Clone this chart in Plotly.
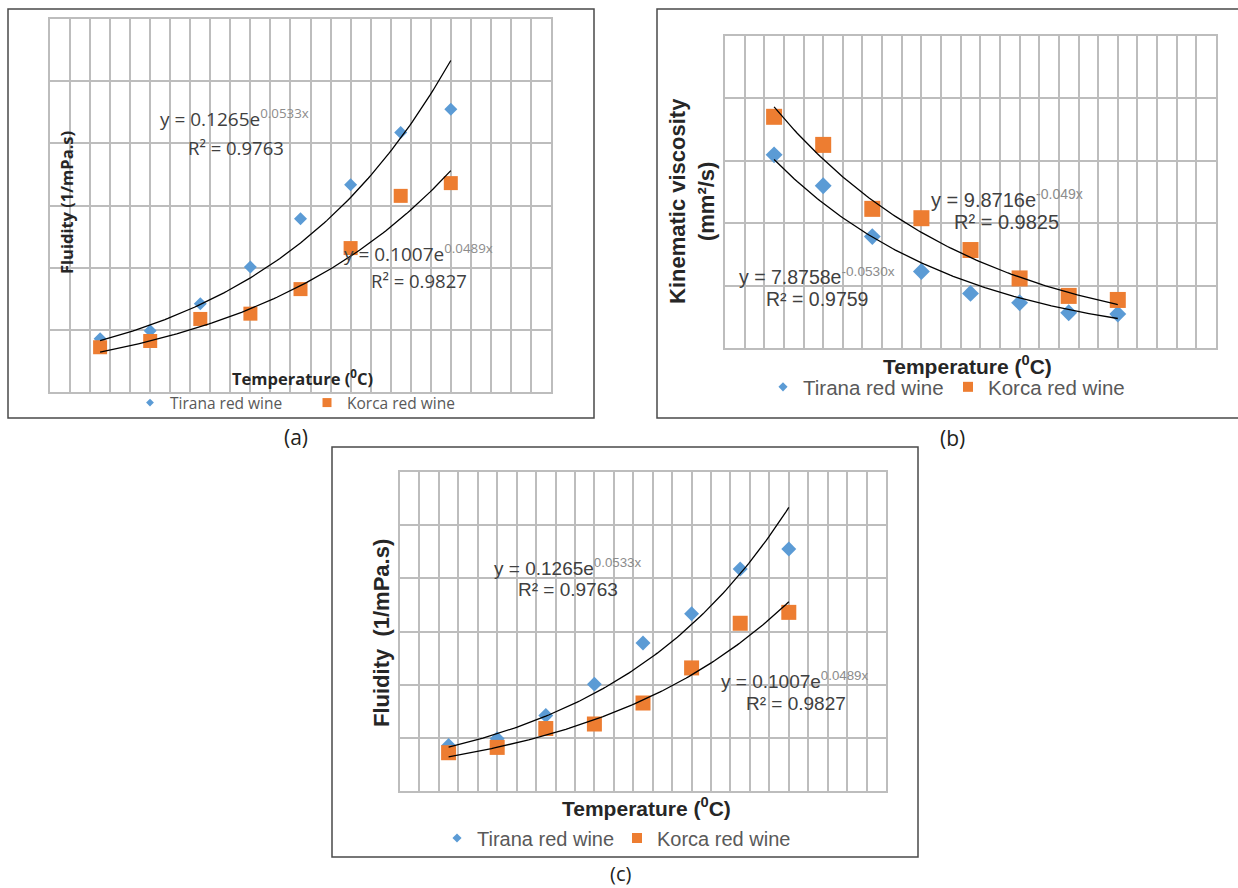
import numpy as np
import plotly.graph_objects as go

# ---------------- data ----------------
temperature = [5, 10, 15, 20, 25, 30, 35, 40]
tirana_fluidity = [0.171, 0.197, 0.284, 0.402, 0.557, 0.667, 0.835, 0.910]
korca_fluidity = [0.144, 0.164, 0.235, 0.252, 0.331, 0.463, 0.631, 0.672]
tirana_viscosity = [6.19, 5.20, 3.57, 2.45, 1.75, 1.45, 1.13, 1.09]
korca_viscosity = [7.41, 6.51, 4.46, 4.16, 3.14, 2.23, 1.67, 1.54]

# exponential trendline coefficients as displayed: y = a * e^(b x), R²
tirana_fluidity_fit = ["0.1265", "0.0533", "0.9763"]
korca_fluidity_fit = ["0.1007", "0.0489", "0.9827"]
tirana_visc_fit = ["7.8758", "-0.0530", "0.9759"]
korca_visc_fit = ["9.8716", "-0.049", "0.9825"]

series_names = ["Tirana red wine", "Korca red wine"]
x_title = "Temperature (<sup>0</sup>C)"
BLUE = "#5B9BD5"
ORANGE = "#ED7D31"
GRID = "#BDBDBD"
W, H = 1238, 888


def X(p):
    return p / W


def Y(p):
    return 1 - p / H


fig = go.Figure()


def trend(fit, axis_x, axis_y):
    a, b = float(fit[0]), float(fit[1])
    xs = np.linspace(min(temperature), max(temperature), 120)
    fig.add_trace(go.Scatter(x=xs, y=a * np.exp(b * xs), mode="lines",
                             line=dict(color="black", width=1.3),
                             showlegend=False, hoverinfo="skip",
                             xaxis=axis_x, yaxis=axis_y))


def panel(tir, kor, fit_t, fit_k, ax, ay, leg, dsize, ssize, lsize_d, lsize_s):
    fig.add_trace(go.Scatter(x=temperature, y=tir, mode="markers", name=series_names[0],
                             marker=dict(symbol="diamond", size=dsize, color=BLUE),
                             showlegend=False, xaxis=ax, yaxis=ay))
    fig.add_trace(go.Scatter(x=temperature, y=kor, mode="markers", name=series_names[1],
                             marker=dict(symbol="square", size=ssize, color=ORANGE),
                             showlegend=False, xaxis=ax, yaxis=ay))
    trend(fit_t, ax, ay)
    trend(fit_k, ax, ay)
    # legend entries
    fig.add_trace(go.Scatter(x=[None], y=[None], mode="markers", name=series_names[0],
                             marker=dict(symbol="diamond", size=lsize_d, color=BLUE),
                             legend=leg, xaxis=ax, yaxis=ay))
    fig.add_trace(go.Scatter(x=[None], y=[None], mode="markers", name=series_names[1],
                             marker=dict(symbol="square", size=lsize_s, color=ORANGE),
                             legend=leg, xaxis=ax, yaxis=ay))


panel(tirana_fluidity, korca_fluidity, tirana_fluidity_fit, korca_fluidity_fit, "x", "y", "legend", 10, 14, 6, 9)
panel(tirana_viscosity, korca_viscosity, tirana_visc_fit, korca_visc_fit, "x2", "y2", "legend2", 13, 16, 7, 10)
panel(tirana_fluidity, korca_fluidity, tirana_fluidity_fit, korca_fluidity_fit, "x3", "y3", "legend3", 11.5, 15, 7, 10)

# plot-area rectangles (pixels): left, top, right, bottom
areas = {
    "a": (50, 19, 551, 392),
    "b": (725, 36, 1216, 348),
    "c": (400, 472, 886, 791),
}
ranges = {"a": [0, 1.2], "b": [0, 10], "c": [0, 1.2]}
dticks = {"a": 0.2, "b": 2, "c": 0.2}

axcommon = dict(showgrid=True, gridcolor=GRID, gridwidth=1.5, showline=True, mirror=True,
                linecolor=GRID, linewidth=1.5, zeroline=False, ticks="", showticklabels=False,
                fixedrange=True)

layout_axes = {}
for i, k in enumerate(["a", "b", "c"]):
    l, t, r, b = areas[k]
    sx = "xaxis" if i == 0 else f"xaxis{i+1}"
    sy = "yaxis" if i == 0 else f"yaxis{i+1}"
    anc_x = "y" if i == 0 else f"y{i+1}"
    anc_y = "x" if i == 0 else f"x{i+1}"
    layout_axes[sx] = dict(domain=[X(l), X(r)], range=[0, 50], dtick=2, tick0=0, anchor=anc_x, **axcommon)
    layout_axes[sy] = dict(domain=[Y(b), Y(t)], range=ranges[k], dtick=dticks[k], tick0=0, anchor=anc_y, **axcommon)

fig.update_layout(**layout_axes)

# boxes around each chart
boxes = [(8, 9, 594, 418), (657, 9, 1250, 418), (332, 447, 918, 857)]
shapes = []
for (l, t, r, b) in boxes:
    shapes.append(dict(type="rect", xref="paper", yref="paper", x0=X(l), x1=X(r), y0=Y(b), y1=Y(t),
                       line=dict(color="#4A4A4A", width=1.5), fillcolor="rgba(0,0,0,0)", layer="below"))

OS = "Open Sans"
AR = "Liberation Sans, Arial"
TXT = "#404040"
SUPC = "#8C8C8C"


def eq(fit):
    return f"y = {fit[0]}e<sup><span style='color:{SUPC}'>{fit[1]}x</span></sup>"


def r2(fit):
    return f"R² = {fit[2]}"


ann = []


def add_text(text, x, y, font, size, xanchor="left", bold=False, angle=0, color=TXT):
    ann.append(dict(text=f"<b>{text}</b>" if bold else text, x=X(x), y=Y(y), xref="paper", yref="paper",
                    xanchor=xanchor, yanchor="middle", showarrow=False, textangle=angle,
                    font=dict(family=font, size=size, color=color)))


# panel (a)
add_text(eq(tirana_fluidity_fit), 158, 118, OS, 19)
add_text(r2(tirana_fluidity_fit), 186, 147, OS, 18.5)
add_text(eq(korca_fluidity_fit), 342, 253, OS, 19)
add_text(r2(korca_fluidity_fit), 369, 281, OS, 18.5)
add_text("Fluidity (1/mPa.s)", 66, 203, OS, 16.5, xanchor="center", bold=True, angle=-90, color="#262626")
add_text(x_title, 302, 378, OS, 16.5, xanchor="center", bold=True, color="#262626")
add_text("(a)", 296, 437, OS, 21, xanchor="center", color="#231F20")

# panel (b)
add_text(eq(korca_visc_fit), 929, 198, AR, 20)
add_text(r2(korca_visc_fit), 952, 222, AR, 20)
add_text(eq(tirana_visc_fit), 737, 276, AR, 19.5)
add_text(r2(tirana_visc_fit), 764, 299, AR, 19.5)
add_text("Kinematic viscosity<br>(mm²/s)", 692, 201, AR, 22, xanchor="center", bold=True, angle=-90, color="#262626")
add_text(x_title, 967, 365, AR, 21, xanchor="center", bold=True, color="#262626")
add_text("(b)", 952, 438, OS, 21, xanchor="center", color="#231F20")

# panel (c)
add_text(eq(tirana_fluidity_fit), 492, 567, AR, 19)
add_text(r2(tirana_fluidity_fit), 516, 589, AR, 19)
add_text(eq(korca_fluidity_fit), 719, 680, AR, 19)
add_text(r2(korca_fluidity_fit), 744, 703, AR, 19)
add_text("Fluidity \u00a0(1/mPa.s)", 381, 633, AR, 22, xanchor="center", bold=True, angle=-90, color="#262626")
add_text(x_title, 646, 807, AR, 21, xanchor="center", bold=True, color="#262626")
add_text("(c)", 621, 873, OS, 20, xanchor="center", color="#231F20")

legcommon = dict(orientation="h", xanchor="left", yanchor="middle", bgcolor="rgba(0,0,0,0)",
                 itemwidth=30, entrywidthmode="pixels")

fig.update_layout(
    width=W, height=H, autosize=False,
    margin=dict(l=0, r=0, t=0, b=0),
    paper_bgcolor="white", plot_bgcolor="white",
    shapes=shapes, annotations=ann,
    legend=dict(x=X(130), y=Y(403), entrywidth=132,
                font=dict(family=OS, size=15.5, color="#595959"), **legcommon),
    legend2=dict(x=X(763), y=Y(387), entrywidth=140,
                 font=dict(family=AR, size=20.5, color="#595959"), **legcommon),
    legend3=dict(x=X(437), y=Y(838), entrywidth=135,
                 font=dict(family=AR, size=20, color="#595959"), **legcommon),
    showlegend=True,
)

fig.write_html("out.html", config={"displayModeBar": False},
               post_script="document.body.style.margin='0px';document.body.style.overflow='hidden';")
